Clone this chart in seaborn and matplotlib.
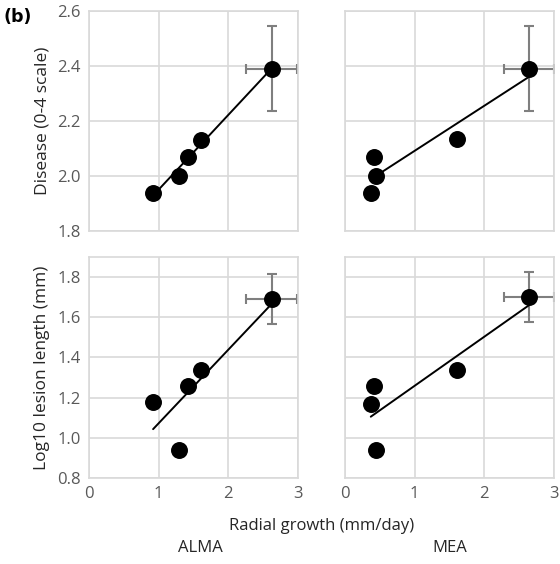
import numpy as np
import pandas as pd
import matplotlib
matplotlib.use("Agg")
import matplotlib.pyplot as plt
import seaborn as sns

# ---- data ----
alma_growth = [0.92, 1.29, 1.42, 1.61, 2.62]
mea_growth = [0.41, 0.44, 0.37, 1.61, 2.64]
alma_disease = [1.94, 2.00, 2.07, 2.13, 2.39]
mea_disease = [2.07, 2.00, 1.94, 2.135, 2.39]
alma_lesion = [1.18, 0.94, 1.26, 1.34, 1.69]
mea_lesion = [1.26, 0.94, 1.17, 1.34, 1.70]

growth_err = 0.36
disease_err = 0.155
lesion_err = 0.125

media = ["ALMA", "MEA"]
x_ticks = [0, 1, 2, 3]
disease_ticks = [1.8, 2.0, 2.2, 2.4, 2.6]
lesion_ticks = [0.8, 1.0, 1.2, 1.4, 1.6, 1.8]

sns.set_style("whitegrid")
plt.rcParams['font.family'] = ['Open Sans', 'DejaVu Sans']

W, H = 560, 564
fig = plt.figure(figsize=(W / 100, H / 100), dpi=100)

def px_axes(x0, y0, x1, y1):
    return fig.add_axes([x0 / W, 1 - y1 / H, (x1 - x0) / W, (y1 - y0) / H])

grid_c = "#d9d9d9"
tick_c = "#595959"
err_c = "#7f7f7f"
text_c = "#262626"

axes = {
    ("disease", 0): px_axes(89, 11, 298, 231),
    ("disease", 1): px_axes(345, 11, 554, 231),
    ("lesion", 0): px_axes(89, 257, 298, 478),
    ("lesion", 1): px_axes(345, 257, 554, 478),
}

data = {
    ("disease", 0): (alma_growth, alma_disease, disease_err),
    ("disease", 1): (mea_growth, mea_disease, disease_err),
    ("lesion", 0): (alma_growth, alma_lesion, lesion_err),
    ("lesion", 1): (mea_growth, mea_lesion, lesion_err),
}

for (row, col), ax in axes.items():
    xs, ys, yerr = data[(row, col)]
    df = pd.DataFrame({"x": xs, "y": ys})
    sns.regplot(data=df, x="x", y="y", ax=ax, ci=None,
                scatter_kws=dict(s=125, color="black", edgecolor="black", alpha=1, zorder=4),
                line_kws=dict(color="black", lw=1.4, zorder=3))
    ax.errorbar(xs[-1], ys[-1], xerr=growth_err, yerr=yerr, fmt="none",
                ecolor=err_c, elinewidth=1.5, capsize=3.5, capthick=1.5, zorder=2)
    ax.set_xlim(0, 3)
    ax.set_xticks(x_ticks)
    if row == "disease":
        ax.set_ylim(1.8, 2.6)
        ax.set_yticks(disease_ticks)
    else:
        ax.set_ylim(0.8, 1.9)
        ax.set_yticks(lesion_ticks)
    ax.grid(True, color=grid_c, lw=1.2)
    for s in ax.spines.values():
        s.set_visible(True)
        s.set_color(grid_c)
        s.set_linewidth(1.2)
    ax.tick_params(length=0, labelsize=12, colors=tick_c, pad=6)
    ax.set_xlabel("")
    ax.set_ylabel("")
    if col == 0:
        ax.set_yticklabels([f"{t:.1f}" for t in ax.get_yticks()])
    else:
        ax.set_yticklabels([])
    if row == "disease":
        ax.set_xticklabels([])
    else:
        ax.set_xticklabels([str(t) for t in x_ticks])

axes[("disease", 0)].set_ylabel("Disease (0-4 scale)", fontsize=12.5, color=text_c, labelpad=5)
axes[("lesion", 0)].set_ylabel("Log10 lesion length (mm)", fontsize=12.5, color=text_c, labelpad=5)

fig.text(322 / W, 1 - 526 / H, "Radial growth (mm/day)", ha="center", va="center",
         fontsize=12, color=text_c)
fig.text(200 / W, 1 - 548 / H, media[0], ha="center", va="center", fontsize=12, color=text_c)
fig.text(450 / W, 1 - 548 / H, media[1], ha="center", va="center", fontsize=12, color=text_c)
fig.text(18 / W, 1 - 17 / H, "(b)", ha="center", va="center", fontsize=12.5,
         fontweight="bold", color="black", family=['DejaVu Sans'])

fig.savefig("out.png", dpi=100)
